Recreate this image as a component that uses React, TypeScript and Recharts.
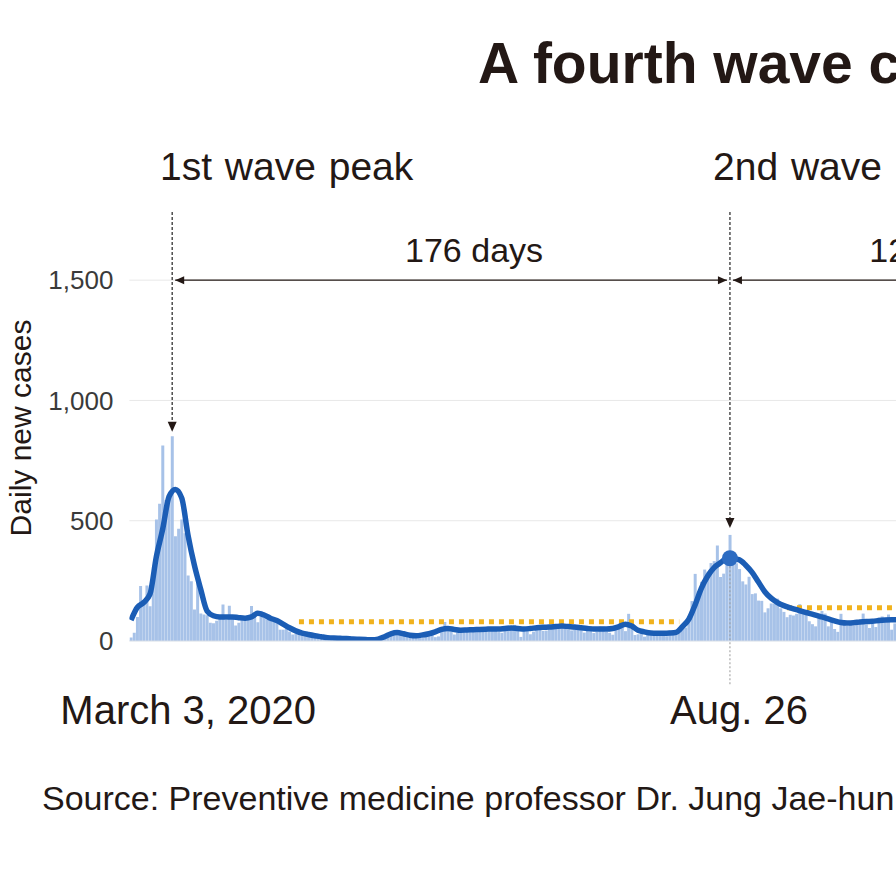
import React from 'react';
import {
    ComposedChart, Bar, Line, XAxis, YAxis, CartesianGrid, ReferenceLine, ReferenceDot
} from 'recharts';

const FONT = "'Liberation Sans', Arial, Helvetica, sans-serif";
const INK = '#231815';

// daily new cases, day 0 = Feb 19, 2020
const dailyCases = [
    15, 34, 100, 229, 169, 231, 144, 284, 505, 571,
    813, 586, 599, 851, 435, 467, 505, 448, 272, 248,
    131, 242, 114, 110, 107, 76, 74, 84, 93, 152,
    87, 147, 98, 64, 76, 100, 104, 91, 146, 105,
    78, 125, 101, 89, 86, 94, 81, 47, 47, 53,
    39, 27, 30, 32, 25, 27, 27, 22, 22, 18,
    8, 13, 9, 11, 8, 6, 10, 10, 10, 14,
    9, 4, 9, 6, 13, 8, 3, 2, 4, 12,
    18, 34, 35, 27, 26, 29, 27, 19, 13, 15,
    13, 32, 12, 20, 23, 25, 16, 19, 40, 79,
    58, 39, 27, 35, 38, 49, 39, 39, 51, 57,
    38, 38, 50, 45, 56, 49, 37, 34, 43, 59,
    49, 67, 48, 17, 46, 51, 28, 39, 51, 62,
    42, 43, 50, 51, 54, 63, 63, 61, 48, 44,
    63, 50, 45, 35, 44, 62, 33, 39, 61, 60,
    39, 34, 26, 45, 63, 59, 41, 113, 58, 25,
    28, 48, 18, 36, 31, 30, 23, 34, 33, 20,
    43, 36, 28, 34, 54, 56, 103, 166, 279, 197,
    246, 297, 288, 324, 332, 397, 266, 280, 320, 441,
    371, 323, 299, 248, 235, 267, 195, 198, 168, 167,
    119, 136, 156, 155, 176, 136, 121, 99, 109, 106,
    113, 153, 126, 110, 82, 70, 61, 110, 125, 114,
    61, 95, 50, 38, 113, 77, 63, 75, 64, 73,
    75, 114, 69, 54, 72, 58, 97, 102, 84, 110,
    47, 73, 91, 76,
];

// 7-day average, one reading every second day (day 0, 2, 4, ...)
const avgEvery2Days = [
    87, 140, 160, 195, 350, 465, 600, 630, 595, 440,
    315, 215, 125, 105, 100, 100, 100, 97, 95, 100,
    115, 108, 95, 85, 70, 55, 42, 33, 27, 22,
    18, 14, 12, 11, 10, 8, 7, 6, 5, 8,
    18, 30, 35, 30, 24, 22, 25, 30, 38, 48,
    52, 48, 45, 46, 47, 48, 49, 50, 50, 52,
    54, 52, 50, 52, 55, 57, 58, 60, 62, 60,
    58, 55, 52, 50, 50, 50, 52, 60, 70, 62,
    45, 38, 33, 32, 32, 33, 36, 60, 90, 150,
    220, 270, 305, 325, 342, 342, 337, 315, 285, 245,
    205, 178, 160, 147, 138, 130, 122, 115, 108, 100,
    92, 84, 77, 75, 76, 79, 81, 82, 85, 87,
    88, 88,
];

const xTickDays = [13, 189];
const xTickLabels = ['March 3, 2020', 'Aug. 26'];
const xTickNudge = [16, 9];
const yTicks = [0, 500, 1000, 1500];
const gridValues = [500, 1000, 1500];

// wave peaks: day, where the arrow stops
const peakDays = [13, 189];
const peakArrowTips = [870, 470];
const secondPeakAvg = 344;

// gaps between peaks
const intervalFrom = [13, 189];
const intervalTo = [189, 306];
const intervalLabels = ['176 days', '121 days'];

// low plateaus (orange dotted)
const plateauFrom = [53, 207];
const plateauTo = [173, 260];
const plateauLevel = [80, 138];

const data = dailyCases.map((cases, day) => ({
    day,
    cases,
    avg: day % 2 === 0 && avgEvery2Days[day / 2] !== undefined ? avgEvery2Days[day / 2] : null,
}));

const XTick = ({ x, y, payload }: any) => {
    const i = xTickDays.indexOf(payload.value);
    return (
        <text x={x + xTickNudge[i]} y={y + 83} textAnchor="middle" fontSize={40} fill={INK} fontFamily={FONT}>
            {xTickLabels[i]}
        </text>
    );
};

const PeakArrow = (props: any) => {
    const { x1, y1, y2 } = props;
    const top = Math.min(y1, y2);
    const tip = Math.max(y1, y2);
    return (
        <g>
            <line x1={x1} x2={x1} y1={top} y2={tip - 8} stroke="#333" strokeWidth={1.3} strokeDasharray="3 2" />
            <polygon points={`${x1},${tip} ${x1 - 4.5},${tip - 10} ${x1 + 4.5},${tip - 10}`} fill={INK} />
        </g>
    );
};

const intervalArrow = (label: string) => (props: any) => {
    const { x1, x2, y1 } = props;
    const a = Math.min(x1, x2) + 3;
    const b = Math.max(x1, x2) - 3;
    return (
        <g>
            <line x1={a} x2={b} y1={y1} y2={y1} stroke={INK} strokeWidth={1.4} />
            <polygon points={`${a},${y1} ${a + 9},${y1 - 4} ${a + 9},${y1 + 4}`} fill={INK} />
            <polygon points={`${b},${y1} ${b - 9},${y1 - 4} ${b - 9},${y1 + 4}`} fill={INK} />
            <text x={(a + b) / 2 + 23} y={y1 - 18} textAnchor="middle" fontSize={34} fill={INK} fontFamily={FONT}>
                {label}
            </text>
        </g>
    );
};

export default function App() {
    return (
        <div style={{ position: 'absolute', left: 0, top: 0, width: 896, height: 896, overflow: 'hidden', background: '#fff' }}>
            <ComposedChart
                width={896}
                height={760}
                data={data}
                margin={{ top: 208, right: 0, left: 0, bottom: 39 }}
                barCategoryGap="6%"
            >
                <CartesianGrid vertical={false} stroke="#e8e8e8" horizontalValues={gridValues} />
                <XAxis
                    dataKey="day"
                    type="number"
                    domain={[-0.5, 241.4]}
                    allowDataOverflow
                    ticks={xTickDays}
                    tick={<XTick />}
                    tickLine={false}
                    tickSize={0}
                    tickMargin={0}
                    axisLine={{ stroke: '#d6dde6' }}
                    height={80}
                />
                <YAxis
                    type="number"
                    domain={[0, 1800]}
                    allowDataOverflow
                    ticks={yTicks}
                    width={129.4}
                    axisLine={false}
                    tickLine={false}
                    tickSize={0}
                    tickMargin={16}
                    tick={{ fontSize: 26, fill: '#3a3a3a', fontFamily: FONT }}
                    tickFormatter={(v: number) => v.toLocaleString('en-US')}
                />
                <Bar dataKey="cases" fill="#a7c2e8" isAnimationActive={false} />
                {plateauLevel.map((lvl, i) => (
                    <ReferenceLine
                        key={`pl-${i}`}
                        segment={[{ x: plateauFrom[i], y: lvl }, { x: plateauTo[i], y: lvl }]}
                        stroke="#f1b21d"
                        strokeWidth={5}
                        strokeDasharray="5 5"
                        ifOverflow="visible"
                    />
                ))}
                <ReferenceLine
                    segment={[{ x: peakDays[1], y: secondPeakAvg }, { x: peakDays[1], y: -185 }]}
                    stroke="#9a9a9a"
                    strokeWidth={1}
                    strokeDasharray="2 2"
                    ifOverflow="visible"
                />
                <Line
                    dataKey="avg"
                    type="monotone"
                    stroke="#1b5db5"
                    strokeWidth={5.5}
                    dot={false}
                    connectNulls
                    isAnimationActive={false}
                />
                <ReferenceDot x={peakDays[1]} y={secondPeakAvg} r={8} fill="#2d6cc2" stroke="none" />
                {peakDays.map((d, i) => (
                    <ReferenceLine
                        key={`pk-${i}`}
                        segment={[{ x: d, y: 1783 }, { x: d, y: peakArrowTips[i] }]}
                        shape={PeakArrow}
                        ifOverflow="visible"
                    />
                ))}
                {intervalLabels.map((label, i) => (
                    <ReferenceLine
                        key={`iv-${i}`}
                        segment={[{ x: intervalFrom[i], y: 1500 }, { x: intervalTo[i], y: 1500 }]}
                        shape={intervalArrow(label)}
                        ifOverflow="visible"
                    />
                ))}
            </ComposedChart>
            <svg width={896} height={896} style={{ position: 'absolute', left: 0, top: 0, pointerEvents: 'none' }} fontFamily={FONT}>
                <text x={478} y={83} fontSize={57} fontWeight="bold" fill={INK}>A fourth wave c</text>
                <text x={160} y={180} fontSize={39} wordSpacing={2} fill={INK}>1st wave peak</text>
                <text x={713} y={180} fontSize={39} wordSpacing={2} fill={INK}>2nd wave peak</text>
                <text transform="translate(31,428) rotate(-90)" textAnchor="middle" fontSize={30} fill={INK}>Daily new cases</text>
                <text x={42} y={810} fontSize={34} fill={INK}>Source: Preventive medicine professor Dr. Jung Jae-hun</text>
            </svg>
        </div>
    );
}
